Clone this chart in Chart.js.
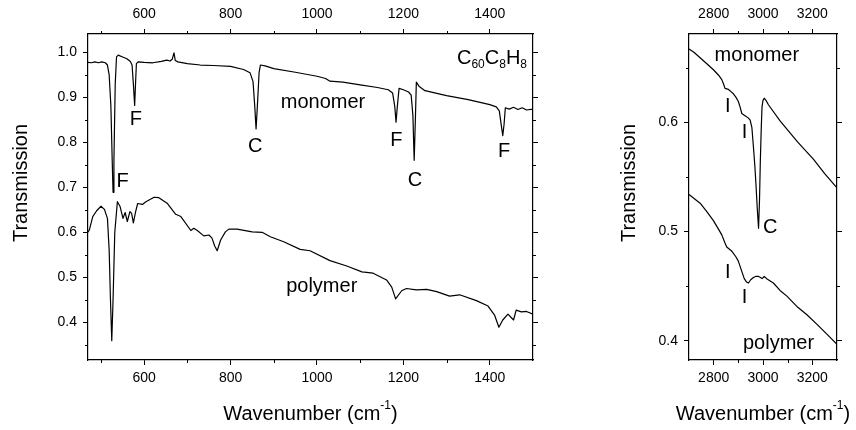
<!DOCTYPE html>
<html lang="en">
<head>
<meta charset="UTF-8">
<title>C60C8H8 IR transmission</title>
<script src="https://cdn.jsdelivr.net/npm/chart.js"></script>
<style>
  body { margin: 0; background: #fff; }
  #wrap { position: relative; width: 856px; height: 430px; }
  canvas { position: absolute; top: 0; }
</style>
</head>
<body>
<div id="wrap">
  <canvas id="mid" width="560" height="430" style="left:0"></canvas>
  <canvas id="ch" width="247" height="430" style="left:609px"></canvas>
</div>
<script>
// --- mid-IR panel (470-1500 cm-1) ---
const monoWn = [470, 478, 486, 494, 502, 510, 515, 519, 523, 526, 528, 530, 533, 536, 540, 550, 560, 568, 572, 575, 578, 580, 582, 586,
  600, 620, 640, 652, 660, 665, 669, 672, 678, 700, 730, 760, 800, 830, 845, 852, 856, 859, 862, 866, 869, 880, 900, 950, 1000,
  1020, 1030, 1060, 1100, 1140, 1165, 1175, 1180, 1183, 1186, 1190, 1200, 1212, 1218, 1222, 1225, 1228, 1230, 1236, 1250, 1300,
  1350, 1400, 1415, 1422, 1427, 1430, 1433, 1436, 1445, 1455, 1465, 1475, 1485, 1500];
const monoT = [0.978, 0.977, 0.979, 0.977, 0.979, 0.977, 0.972, 0.950, 0.880, 0.760, 0.689, 0.760, 0.930, 0.990, 0.994, 0.990, 0.986, 0.980, 0.972, 0.930, 0.882, 0.930, 0.975, 0.979,
  0.978, 0.977, 0.980, 0.983, 0.981, 0.985, 0.999, 0.982, 0.979, 0.975, 0.972, 0.971, 0.969, 0.962, 0.955, 0.935, 0.880, 0.830, 0.880, 0.955, 0.972, 0.970, 0.964, 0.956, 0.947,
  0.942, 0.936, 0.934, 0.928, 0.922, 0.917, 0.910, 0.880, 0.845, 0.880, 0.920, 0.917, 0.912, 0.905, 0.860, 0.760, 0.860, 0.934, 0.925, 0.915, 0.904,
  0.895, 0.884, 0.879, 0.870, 0.835, 0.815, 0.840, 0.877, 0.874, 0.878, 0.873, 0.877, 0.872, 0.874];

const polyWn = [470, 473, 481, 490, 500, 508, 515, 519, 522, 525, 528, 532, 538, 544, 551, 556, 561, 567, 571, 575, 580, 585, 596, 604,
  623, 634, 654, 673, 685, 708, 715, 723, 738, 750, 757, 763, 769, 777, 788, 796, 815, 850, 873, 892, 923, 961, 984, 1030, 1069,
  1104, 1130, 1161, 1173, 1182, 1196, 1207, 1230, 1254, 1277, 1307, 1330, 1369, 1396, 1411, 1421, 1430, 1442, 1455, 1461, 1473, 1485, 1500];
const polyT = [0.600, 0.605, 0.635, 0.648, 0.658, 0.651, 0.631, 0.560, 0.450, 0.359, 0.450, 0.600, 0.668, 0.658, 0.631, 0.644, 0.624, 0.646, 0.642, 0.621, 0.645, 0.664, 0.662, 0.668,
  0.678, 0.677, 0.664, 0.640, 0.635, 0.604, 0.609, 0.604, 0.592, 0.594, 0.587, 0.570, 0.559, 0.583, 0.601, 0.607, 0.607, 0.601, 0.600, 0.590, 0.579, 0.562, 0.559, 0.537, 0.525,
  0.512, 0.509, 0.494, 0.478, 0.452, 0.470, 0.475, 0.472, 0.473, 0.468, 0.458, 0.461, 0.448, 0.436, 0.416, 0.389, 0.405, 0.418, 0.405, 0.427, 0.423, 0.424, 0.418];

// --- C-H stretch panel (2700-3300 cm-1) ---
const monoChWn = [2700, 2720, 2745, 2770, 2799, 2820, 2833, 2840, 2846, 2860, 2870, 2880, 2890, 2900, 2907, 2914, 2927, 2940, 2948, 2955,
  2961, 2967, 2972, 2977, 2982, 2986, 2989, 2993, 2996, 3000, 3005, 3012, 3022, 3070, 3140, 3205, 3250, 3300];
const monoChT = [0.667, 0.664, 0.659, 0.654, 0.648, 0.643, 0.639, 0.635, 0.631, 0.630, 0.628, 0.626, 0.623, 0.619, 0.614, 0.608, 0.606, 0.604, 0.602, 0.595,
  0.578, 0.560, 0.541, 0.520, 0.503, 0.530, 0.563, 0.595, 0.614, 0.620, 0.622, 0.620, 0.616, 0.601, 0.582, 0.566, 0.553, 0.540];

const polyChWn = [2700, 2745, 2770, 2799, 2820, 2833, 2845, 2853, 2874, 2890, 2900, 2912, 2924, 2933, 2941, 2950, 2961, 2970, 2982, 2990,
  2996, 3005, 3015, 3042, 3070, 3097, 3140, 3178, 3220, 3260, 3300];
const polyChT = [0.534, 0.526, 0.519, 0.510, 0.502, 0.497, 0.490, 0.486, 0.482, 0.477, 0.473, 0.465, 0.457, 0.454, 0.453, 0.456, 0.458, 0.459, 0.459, 0.458,
  0.457, 0.459, 0.457, 0.453, 0.446, 0.441, 0.431, 0.424, 0.415, 0.406, 0.397];

// ticks
const midXTicks = [600, 800, 1000, 1200, 1400];
const midXMinor = [500, 700, 900, 1100, 1300];
const midYTicks = [0.4, 0.5, 0.6, 0.7, 0.8, 0.9, 1.0];
const midYMinor = [0.35, 0.45, 0.55, 0.65, 0.75, 0.85, 0.95];
const chXTicks = [2800, 3000, 3200];
const chXMinor = [2900, 3100];
const chYTicks = [0.4, 0.5, 0.6];
const chYMinor = [0.45, 0.55, 0.65];

// band labels
const midNotes = [
  { t: 'F', x: 550, y: 0.712 }, { t: 'F', x: 581, y: 0.850 }, { t: 'C', x: 857, y: 0.790 },
  { t: 'monomer', x: 1014, y: 0.888 }, { t: 'F', x: 1184, y: 0.805 }, { t: 'C', x: 1227, y: 0.716 },
  { t: 'F', x: 1433, y: 0.779 }, { t: 'polymer', x: 1011, y: 0.479 }
];
const chNotes = [
  { t: 'monomer', x: 2975, y: 0.661 }, { t: 'I', x: 2857, y: 0.614 }, { t: 'I', x: 2925, y: 0.591 },
  { t: 'C', x: 3029, y: 0.504 }, { t: 'I', x: 2857, y: 0.463 }, { t: 'I', x: 2925, y: 0.440 },
  { t: 'polymer', x: 3063, y: 0.398 }
];
const formula = [['C', 20, 0], ['60', 12, 4], ['C', 20, 0], ['8', 12, 4], ['H', 20, 0], ['8', 12, 4]];

const FONT = '"Liberation Sans", Arial, sans-serif';
Chart.defaults.font.family = FONT;
Chart.defaults.color = '#000';

const decor = {
  id: 'decor',
  afterDraw(chart, args, o) {
    const ctx = chart.ctx, a = chart.chartArea;
    const sx = chart.scales.x, sy = chart.scales.y;
    ctx.save();
    // minor ticks, all four sides
    ctx.strokeStyle = '#000';
    ctx.lineWidth = 1;
    ctx.beginPath();
    o.xMinor.forEach(v => {
      const p = Math.round(sx.getPixelForValue(v)) + 0.5;
      ctx.moveTo(p, a.bottom); ctx.lineTo(p, a.bottom + 3);
      ctx.moveTo(p, a.top); ctx.lineTo(p, a.top - 3);
    });
    o.yMinor.forEach(v => {
      const p = Math.round(sy.getPixelForValue(v)) + 0.5;
      ctx.moveTo(a.left, p); ctx.lineTo(a.left - 3, p);
      ctx.moveTo(a.right, p); ctx.lineTo(a.right + 3, p);
    });
    ctx.stroke();

    ctx.fillStyle = '#000';
    ctx.font = '20px ' + FONT;
    ctx.textAlign = 'center';
    ctx.textBaseline = 'middle';
    o.notes.forEach(n => ctx.fillText(n.t, sx.getPixelForValue(n.x), sy.getPixelForValue(n.y)));

    ctx.textAlign = 'left';
    ctx.textBaseline = 'alphabetic';
    if (o.formula) {
      let w = 0;
      o.formula.forEach(([s, fs]) => { ctx.font = fs + 'px ' + FONT; w += ctx.measureText(s).width; });
      let x = a.right - 6 - w;
      o.formula.forEach(([s, fs, dy]) => {
        ctx.font = fs + 'px ' + FONT;
        ctx.fillText(s, x, a.top + 30 + dy);
        x += ctx.measureText(s).width;
      });
    }

    // x title with superscript
    ctx.font = '20px ' + FONT;
    const w1 = ctx.measureText('Wavenumber (cm').width, w3 = ctx.measureText(')').width;
    ctx.font = '12px ' + FONT;
    const w2 = ctx.measureText('-1').width;
    let x0 = (a.left + a.right) / 2 - (w1 + w2 + w3) / 2;
    ctx.font = '20px ' + FONT;
    ctx.fillText('Wavenumber (cm', x0, 420);
    ctx.font = '12px ' + FONT;
    ctx.fillText('-1', x0 + w1, 409);
    ctx.font = '20px ' + FONT;
    ctx.fillText(')', x0 + w1 + w2, 420);

    // y title
    ctx.translate(o.yTitleX, 183);
    ctx.rotate(-Math.PI / 2);
    ctx.textAlign = 'center';
    ctx.fillText('Transmission', 0, 0);
    ctx.restore();
  }
};

function scalesFor(xr, yr, xTicks, yTicks, dims) {
  const grid = { drawOnChartArea: false, drawTicks: true, tickLength: 5, color: '#000', lineWidth: 1 };
  const border = { display: true, color: '#000', width: 1.2 };
  const setTicks = vals => s => { s.ticks = vals.map(v => ({ value: v })); };
  const xLab = { padding: 5, maxRotation: 0, autoSkip: false, font: { size: 14 }, callback: v => String(v) };
  const yLab = { padding: 6, autoSkip: false, font: { size: 14 }, callback: v => v.toFixed(1) };
  return {
    x: { type: 'linear', position: 'bottom', min: xr[0], max: xr[1], grid, border, ticks: xLab,
      afterBuildTicks: setTicks(xTicks), afterFit: s => { s.height = dims.bottom; } },
    x2: { type: 'linear', axis: 'x', position: 'top', min: xr[0], max: xr[1], grid, border, ticks: { ...xLab, padding: 6 },
      afterBuildTicks: setTicks(xTicks), afterFit: s => { s.height = dims.top; } },
    y: { type: 'linear', position: 'left', min: yr[0], max: yr[1], grid, border, ticks: yLab,
      afterBuildTicks: setTicks(yTicks), afterFit: s => { s.width = dims.left; } },
    y2: { type: 'linear', axis: 'y', position: 'right', min: yr[0], max: yr[1], grid, border, ticks: { display: false },
      afterBuildTicks: setTicks(yTicks), afterFit: s => { s.width = dims.right; } }
  };
}

function line(xs, ys) {
  return {
    data: xs.map((x, i) => ({ x, y: ys[i] })),
    showLine: true, borderColor: '#000', borderWidth: 1.2, pointRadius: 0, tension: 0,
    borderJoinStyle: 'round'
  };
}

new Chart(document.getElementById('mid'), {
  type: 'scatter',
  data: { datasets: [line(monoWn, monoT), line(polyWn, polyT)] },
  options: {
    responsive: false, animation: false, events: [],
    layout: { padding: 0 },
    plugins: {
      legend: { display: false }, tooltip: { enabled: false },
      decor: { xMinor: midXMinor, yMinor: midYMinor, notes: midNotes, formula: formula, yTitleX: 27 }
    },
    scales: scalesFor([470, 1500], [0.316, 1.041], midXTicks, midYTicks, { left: 88, right: 27, top: 34, bottom: 70 })
  },
  plugins: [decor]
});

new Chart(document.getElementById('ch'), {
  type: 'scatter',
  data: { datasets: [line(monoChWn, monoChT), line(polyChWn, polyChT)] },
  options: {
    responsive: false, animation: false, events: [],
    layout: { padding: 0 },
    plugins: {
      legend: { display: false }, tooltip: { enabled: false },
      decor: { xMinor: chXMinor, yMinor: chYMinor, notes: chNotes, formula: null, yTitleX: 26 }
    },
    scales: scalesFor([2700, 3300], [0.3826, 0.6807], chXTicks, chYTicks, { left: 80, right: 19, top: 34, bottom: 70 })
  },
  plugins: [decor]
});
</script>
</body>
</html>
